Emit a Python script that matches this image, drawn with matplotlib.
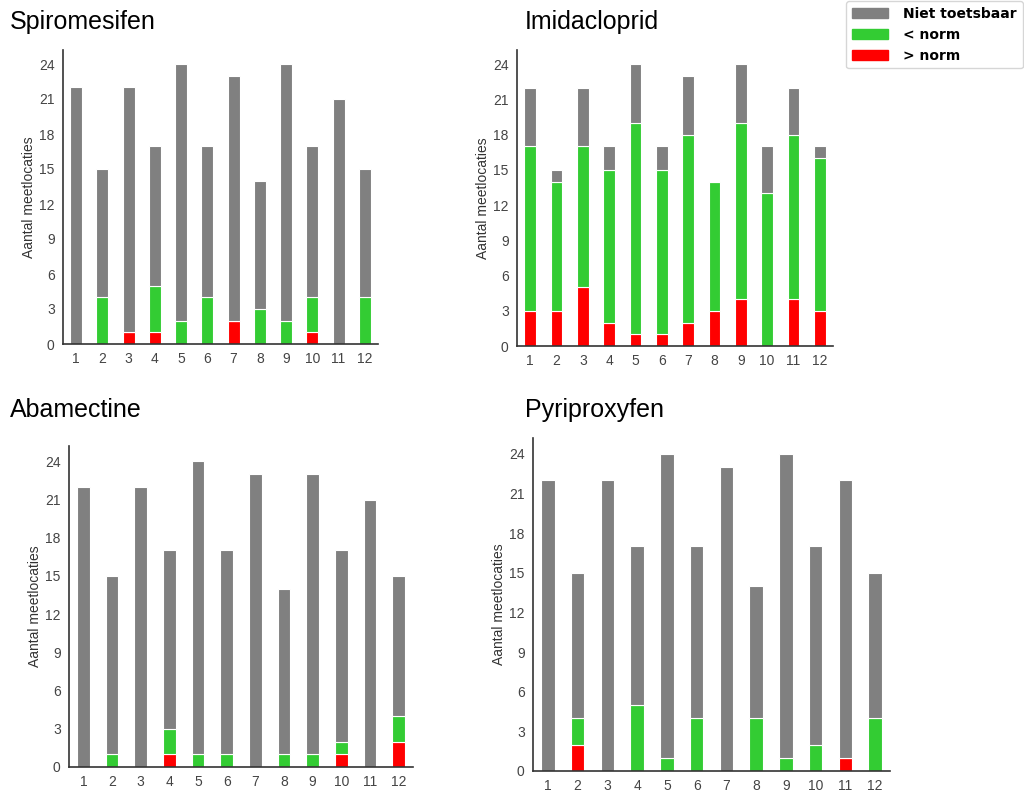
import numpy as np
import matplotlib
matplotlib.use("Agg")
import matplotlib.pyplot as plt
from matplotlib.patches import Patch

months = [str(m) for m in range(1, 13)]

# stoffen
titles = ["Spiromesifen", "Imidacloprid", "Abamectine", "Pyriproxyfen"]

# totaal aantal meetlocaties per maand
totals = {
    "Spiromesifen": [22, 15, 22, 17, 24, 17, 23, 14, 24, 17, 21, 15],
    "Imidacloprid": [22, 15, 22, 17, 24, 17, 23, 14, 24, 17, 22, 17],
    "Abamectine":   [22, 15, 22, 17, 24, 17, 23, 14, 23, 17, 21, 15],
    "Pyriproxyfen": [22, 15, 22, 17, 24, 17, 23, 14, 24, 17, 22, 15],
}
# > norm
above = {
    "Spiromesifen": [0, 0, 1, 1, 0, 0, 2, 0, 0, 1, 0, 0],
    "Imidacloprid": [3, 3, 5, 2, 1, 1, 2, 3, 4, 0, 4, 3],
    "Abamectine":   [0, 0, 0, 1, 0, 0, 0, 0, 0, 1, 0, 2],
    "Pyriproxyfen": [0, 2, 0, 0, 0, 0, 0, 0, 0, 0, 1, 0],
}
# < norm
below = {
    "Spiromesifen": [0, 4, 0, 4, 2, 4, 0, 3, 2, 3, 0, 4],
    "Imidacloprid": [14, 11, 12, 13, 18, 14, 16, 11, 15, 13, 14, 13],
    "Abamectine":   [0, 1, 0, 2, 1, 1, 0, 1, 1, 1, 0, 2],
    "Pyriproxyfen": [0, 2, 0, 5, 1, 4, 0, 4, 1, 2, 0, 4],
}

c_red = "#ff0000"
c_green = "#33cc33"
c_gray = "#808080"

W, H = 1024, 794
fig = plt.figure(figsize=(W / 100, H / 100), dpi=100)

def px(l, t, r, b):
    return [l / W, 1 - b / H, (r - l) / W, (b - t) / H]

axes_px = [
    (63, 50, 378, 344),
    (517, 50, 833, 346),
    (69, 446, 413, 767),
    (533, 438, 890, 771),
]
title_px = [(10, 22), (525, 22), (10, 410), (525, 410)]

font = "Liberation Sans"
x = np.arange(1, 13)

for name, box, tp in zip(titles, axes_px, title_px):
    ax = fig.add_axes(px(*box))
    r = np.array(above[name])
    g = np.array(below[name])
    n = np.array(totals[name]) - r - g
    kw = dict(width=0.45, edgecolor="white", linewidth=0.8)
    ax.bar(x, r, color=c_red, **kw)
    ax.bar(x, g, bottom=r, color=c_green, **kw)
    ax.bar(x, n, bottom=r + g, color=c_gray, **kw)
    ax.set_xlim(0.5, 12.5)
    ax.set_ylim(0, 25.2)
    ax.set_yticks(range(0, 25, 3))
    ax.set_xticks(x)
    ax.set_xticklabels(months)
    for s in ["top", "right"]:
        ax.spines[s].set_visible(False)
    for s in ["left", "bottom"]:
        ax.spines[s].set_color("#333333")
        ax.spines[s].set_linewidth(1.2)
    ax.tick_params(length=0, pad=6, labelsize=10, labelcolor="#444444")
    for lab in ax.get_xticklabels() + ax.get_yticklabels():
        lab.set_fontfamily(font)
    ax.set_ylabel("Aantal meetlocaties", fontsize=10, color="#333333",
                  fontfamily=font, labelpad=2)
    fig.text(tp[0] / W, 1 - tp[1] / H, name, fontsize=18, fontfamily=font,
             va="center", ha="left")

handles = [Patch(color=c_gray, label="Niet toetsbaar"),
           Patch(color=c_green, label="< norm"),
           Patch(color=c_red, label="> norm")]
fig.legend(handles=handles, loc="upper right", bbox_to_anchor=(1.0, 1.0),
           prop={"weight": "bold", "size": 10}, frameon=True,
           edgecolor="#cccccc", handlelength=2.6, handleheight=0.8,
           borderaxespad=0.1, labelspacing=0.5, handletextpad=1.1)

fig.savefig("out.png", dpi=100)
